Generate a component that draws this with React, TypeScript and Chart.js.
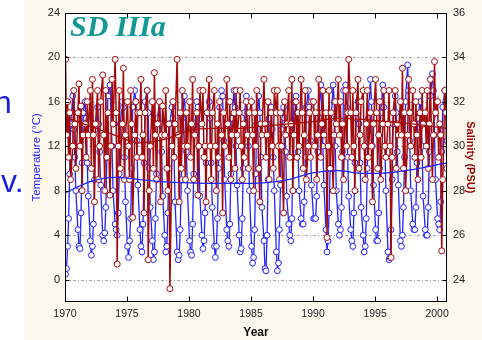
import { useEffect, useRef } from "react";
import { Chart, registerables } from "chart.js";

Chart.register(...registerables);

// ---- data ----
const years = [
  1970, 1971, 1972, 1973, 1974, 1975, 1976, 1977, 1978, 1979,
  1980, 1981, 1982, 1983, 1984, 1985, 1986, 1987, 1988, 1989,
  1990, 1991, 1992, 1993, 1994, 1995, 1996, 1997, 1998, 1999, 2000,
];
// sampling months within each year
const sampleMonths = [1, 2, 3, 4, 5, 6, 8, 9, 10, 11];

// Temperature (°C), one row per year
const temp1970s = [
  [0.5, 1.0, 3.0, 5.5, 9.5, 14.0, 16.5, 13.5, 11.0, 8.0],
  [4.5, 3.0, 2.8, 6.0, 10.5, 15.0, 16.0, 14.5, 10.5, 7.5],
  [3.5, 2.2, 3.0, 5.0, 9.0, 13.5, 15.5, 14.0, 11.5, 8.5],
  [4.0, 3.5, 4.2, 6.5, 11.0, 16.5, 17.5, 15.0, 12.0, 8.0],
  [5.0, 4.5, 4.0, 6.0, 9.5, 14.0, 16.0, 15.5, 11.0, 7.0],
  [3.0, 2.0, 3.5, 5.5, 10.0, 15.5, 17.0, 16.0, 12.5, 8.5],
  [4.5, 3.0, 2.5, 5.0, 10.5, 16.0, 17.0, 15.0, 10.0, 6.5],
  [3.5, 1.8, 2.5, 5.5, 9.5, 14.5, 16.0, 14.0, 11.5, 7.5],
  [4.0, 2.5, 3.0, 6.0, 10.0, 14.0, 15.5, 14.5, 11.0, 7.0],
  [2.5, 1.8, 2.2, 4.5, 9.0, 14.5, 16.5, 15.0, 11.5, 8.0],
];
const temp1980s = [
  [3.5, 2.5, 2.2, 5.0, 9.5, 14.0, 16.0, 15.5, 12.0, 7.5],
  [4.0, 2.8, 3.5, 6.0, 10.5, 15.0, 16.0, 14.5, 10.5, 6.5],
  [3.0, 2.0, 3.0, 5.5, 10.0, 15.5, 17.0, 16.5, 12.5, 9.0],
  [4.5, 3.5, 3.0, 5.0, 9.5, 14.5, 17.0, 15.5, 12.0, 8.5],
  [4.0, 2.5, 2.8, 5.5, 10.0, 15.0, 16.5, 15.0, 12.0, 8.0],
  [3.0, 1.5, 2.0, 4.5, 9.5, 14.0, 16.5, 15.0, 11.0, 6.5],
  [3.5, 1.0, 0.8, 4.0, 9.0, 14.5, 15.5, 13.5, 11.0, 8.0],
  [2.5, 0.8, 1.5, 4.5, 8.5, 13.5, 15.5, 14.5, 11.5, 7.5],
  [5.0, 4.0, 3.5, 5.5, 11.0, 16.0, 16.5, 15.0, 11.5, 8.0],
  [5.5, 5.0, 5.0, 7.0, 11.0, 15.5, 17.0, 15.5, 12.5, 8.5],
];
const temp1990s = [
  [5.5, 5.5, 5.5, 7.5, 11.5, 15.0, 17.5, 15.0, 12.0, 8.5],
  [4.5, 2.5, 3.5, 6.0, 10.0, 14.5, 17.5, 16.0, 12.0, 8.0],
  [5.0, 4.0, 4.5, 6.5, 11.5, 17.0, 17.5, 15.5, 11.0, 7.5],
  [4.5, 3.5, 3.0, 6.0, 10.5, 14.5, 16.0, 14.0, 10.5, 6.5],
  [4.0, 2.5, 3.0, 5.5, 10.0, 14.5, 18.0, 16.0, 12.0, 8.5],
  [4.5, 3.5, 3.5, 6.0, 10.0, 15.0, 17.5, 15.5, 12.0, 8.0],
  [2.5, 1.8, 2.0, 4.5, 9.0, 14.0, 16.5, 15.0, 11.5, 8.5],
  [3.5, 3.0, 4.0, 6.5, 11.0, 16.0, 19.3, 17.0, 12.5, 8.0],
  [5.0, 4.5, 4.5, 6.5, 10.5, 14.5, 16.0, 15.0, 12.0, 7.5],
  [4.5, 4.0, 4.0, 6.5, 11.5, 16.5, 18.5, 17.0, 13.0, 9.0],
];
const temp2000 = [[5.5, 5.0, 4.5, 7.0, 11.5, 15.5, 17.0, 16.0, 12.5]];

// Salinity (PSU), one row per year
const sal1970s = [
  [33.9, 30.5, 32.0, 29.5, 31.5, 28.5, 30.0, 32.5, 31.0, 29.0],
  [31.5, 32.8, 30.0, 31.8, 28.0, 30.5, 31.0, 29.5, 32.0, 30.5],
  [32.5, 29.0, 33.0, 30.5, 27.5, 31.0, 32.5, 28.5, 30.0, 32.0],
  [33.2, 30.5, 28.0, 32.5, 29.5, 31.5, 27.8, 30.0, 33.0, 31.0],
  [33.9, 31.5, 24.7, 30.0, 32.5, 29.0, 31.0, 33.5, 28.5, 30.5],
  [32.0, 30.0, 28.5, 32.5, 31.0, 26.8, 30.5, 32.0, 29.5, 31.5],
  [31.5, 33.0, 29.5, 30.5, 27.0, 31.5, 32.5, 24.9, 28.0, 30.0],
  [32.0, 29.0, 33.3, 30.5, 28.5, 31.0, 32.0, 27.5, 30.5, 31.8],
  [30.5, 32.5, 29.0, 28.0, 31.0, 23.6, 30.0, 32.0, 29.5, 31.0],
  [33.9, 30.5, 27.5, 31.5, 29.0, 32.5, 30.0, 28.5, 31.5, 30.0],
];
const sal1980s = [
  [32.0, 29.5, 31.0, 33.0, 28.5, 30.5, 31.5, 27.8, 30.0, 32.5],
  [31.0, 32.5, 29.5, 30.0, 27.5, 31.5, 33.0, 30.0, 28.5, 31.5],
  [32.5, 30.0, 28.0, 31.0, 29.5, 32.0, 30.5, 27.0, 31.5, 30.0],
  [33.0, 31.0, 29.5, 32.0, 28.5, 30.5, 31.5, 29.0, 32.5, 30.5],
  [31.5, 32.5, 30.0, 28.5, 31.0, 29.5, 32.0, 30.5, 29.0, 31.5],
  [32.0, 30.5, 28.0, 31.5, 30.0, 32.5, 29.0, 27.5, 31.0, 30.5],
  [33.0, 31.0, 29.5, 30.5, 32.0, 28.5, 31.5, 30.0, 29.0, 32.5],
  [31.5, 32.5, 30.0, 28.5, 31.5, 30.0, 27.0, 32.0, 30.5, 31.0],
  [32.5, 29.5, 31.0, 33.0, 28.0, 30.5, 32.0, 29.5, 31.5, 30.0],
  [33.0, 31.5, 29.0, 30.5, 32.5, 28.5, 30.0, 31.5, 29.5, 32.0],
];
const sal1990s = [
  [32.0, 30.0, 31.5, 28.5, 30.5, 33.0, 29.5, 31.0, 32.5, 30.5],
  [31.5, 25.9, 30.0, 32.5, 29.0, 31.5, 28.0, 30.5, 32.0, 31.0],
  [33.0, 30.5, 32.0, 29.5, 31.0, 28.5, 32.5, 30.0, 31.5, 33.9],
  [31.5, 29.5, 32.5, 30.0, 28.0, 31.5, 33.0, 29.0, 30.5, 32.0],
  [32.5, 30.0, 28.5, 31.0, 32.5, 29.5, 31.5, 30.0, 27.5, 31.0],
  [33.0, 31.5, 29.0, 30.5, 32.0, 28.5, 31.0, 32.5, 30.0, 29.5],
  [31.0, 32.5, 30.0, 25.0, 29.5, 31.5, 32.5, 29.0, 31.0, 30.5],
  [32.0, 30.5, 33.5, 29.0, 31.5, 28.0, 30.5, 33.0, 31.5, 30.0],
  [32.5, 31.0, 29.5, 32.0, 30.5, 28.5, 31.5, 29.5, 32.5, 31.0],
  [31.5, 30.0, 32.5, 29.0, 31.0, 33.0, 28.5, 30.5, 33.8, 31.5],
];
const sal2000 = [[32.0, 29.5, 31.0, 30.5, 25.3, 28.5, 32.5, 31.5, 29.0]];

// smoothed trend curves
const trendYears = [1970, 1972, 1974, 1976, 1978, 1980, 1982, 1984, 1986, 1988, 1990, 1992, 1994, 1996, 1998, 2000.8];
const tempTrend = [7.8, 8.8, 9.2, 9.0, 8.8, 8.7, 8.65, 8.65, 8.7, 9.0, 9.6, 9.8, 9.55, 9.6, 9.9, 10.5];
const salTrend = [31.3, 30.9, 30.5, 30.15, 30.3, 30.7, 30.8, 30.8, 30.9, 31.0, 31.1, 31.25, 31.2, 31.1, 31.0, 30.8];

const xTicks = [1970, 1975, 1980, 1985, 1990, 1995, 2000];
const tempTicks = [0, 4, 8, 12, 16, 20, 24];
const salTicks = [24, 26, 28, 30, 32, 34, 36];

// ---- styles ----
const CREAM = "#fcf8ee";
const BLUE = "rgb(35,35,255)";
const RED = "rgb(165,8,8)";
const SLIDE_BLUE = "rgb(28,28,225)";
const TEAL = "rgb(18,152,148)";
const SANS = '"Liberation Sans", Arial, sans-serif';

function toPoints(rows: number[][]) {
  const out: { x: number; y: number }[] = [];
  rows.forEach((row, i) => {
    row.forEach((v, j) => {
      out.push({ x: years[i] + (sampleMonths[j] - 0.5) / 12, y: v });
    });
  });
  return out;
}

const decor = {
  id: "decor",
  beforeDraw(chart: any) {
    const { ctx, chartArea: a, width, height } = chart;
    ctx.save();
    ctx.fillStyle = "#ffffff";
    ctx.fillRect(0, 0, width, height);
    ctx.fillStyle = CREAM;
    ctx.fillRect(24, 0, width - 24, height);
    ctx.fillStyle = "#ffffff";
    ctx.fillRect(a.left, a.top, a.right - a.left, a.bottom - a.top);
    // slide text fragments on the left
    ctx.fillStyle = SLIDE_BLUE;
    ctx.font = `32px ${SANS}`;
    ctx.textBaseline = "alphabetic";
    ctx.textAlign = "left";
    ctx.fillText("n", -6, 113);
    ctx.fillText("v.", 1, 192);
    ctx.restore();
  },
  beforeDatasetsDraw(chart: any) {
    const { ctx, chartArea: a } = chart;
    const y = chart.scales.y;
    ctx.save();
    ctx.strokeStyle = "rgba(150,150,150,0.85)";
    ctx.lineWidth = 1;
    ctx.setLineDash([3, 2, 1, 2]);
    for (const v of tempTicks) {
      const py = Math.round(y.getPixelForValue(v)) + 0.5;
      if (py <= a.top + 1) continue;
      ctx.beginPath();
      ctx.moveTo(a.left, py);
      ctx.lineTo(a.right, py);
      ctx.stroke();
    }
    ctx.restore();
  },
  afterDatasetsDraw(chart: any) {
    const { ctx, chartArea: a } = chart;
    const x = chart.scales.x;
    const y = chart.scales.y;
    const y1 = chart.scales.y1;
    ctx.save();
    ctx.strokeStyle = "#000";
    ctx.lineWidth = 1;
    const L = Math.round(a.left) + 0.5;
    const R = Math.round(a.right) - 0.5;
    const T = Math.round(a.top) + 0.5;
    const B = Math.round(a.bottom) - 0.5;
    ctx.strokeRect(L, T, R - L, B - T);
    ctx.beginPath();
    for (const v of xTicks) {
      const px = Math.round(x.getPixelForValue(v)) + 0.5;
      ctx.moveTo(px, B);
      ctx.lineTo(px, B - 5);
      ctx.moveTo(px, T);
      ctx.lineTo(px, T + 5);
    }
    for (const v of tempTicks) {
      const py = Math.round(y.getPixelForValue(v)) + 0.5;
      ctx.moveTo(L, py);
      ctx.lineTo(L + 4, py);
    }
    for (const v of salTicks) {
      const py = Math.round(y1.getPixelForValue(v)) + 0.5;
      ctx.moveTo(R, py);
      ctx.lineTo(R - 4, py);
    }
    ctx.stroke();
    // panel title
    ctx.fillStyle = TEAL;
    ctx.font = `italic bold 30px "Liberation Serif", "Times New Roman", serif`;
    ctx.textAlign = "left";
    ctx.textBaseline = "alphabetic";
    ctx.fillText("SD IIIa", 70, 36);
    ctx.restore();
  },
};

export default function App() {
  const ref = useRef<HTMLCanvasElement | null>(null);

  useEffect(() => {
    if (!ref.current) return;
    const tempPts = toPoints([...temp1970s, ...temp1980s, ...temp1990s, ...temp2000]);
    const salPts = toPoints([...sal1970s, ...sal1980s, ...sal1990s, ...sal2000]);
    const tTrend = trendYears.map((yr, i) => ({ x: yr, y: tempTrend[i] }));
    const sTrend = trendYears.map((yr, i) => ({ x: yr, y: salTrend[i] }));

    const chart = new Chart(ref.current, {
      type: "line",
      data: {
        datasets: [
          {
            label: "Temperature trend",
            data: tTrend,
            yAxisID: "y",
            borderColor: BLUE,
            borderWidth: 1.3,
            pointRadius: 0,
            cubicInterpolationMode: "monotone",
            order: 1,
          },
          {
            label: "Salinity trend",
            data: sTrend,
            yAxisID: "y1",
            borderColor: RED,
            borderWidth: 1.3,
            pointRadius: 0,
            cubicInterpolationMode: "monotone",
            order: 1,
          },
          {
            label: "Salinity",
            data: salPts,
            yAxisID: "y1",
            borderColor: RED,
            borderWidth: 1.5,
            pointRadius: 3,
            pointBorderWidth: 1,
            pointBorderColor: RED,
            pointBackgroundColor: "#ffffff",
            tension: 0,
            order: 2,
          },
          {
            label: "Temperature",
            data: tempPts,
            yAxisID: "y",
            borderColor: BLUE,
            borderWidth: 1.3,
            pointRadius: 2.9,
            pointBorderWidth: 1,
            pointBorderColor: BLUE,
            pointBackgroundColor: "#ffffff",
            tension: 0,
            order: 3,
          },
        ],
      },
      options: {
        animation: false,
        responsive: false,
        devicePixelRatio: 1,
        parsing: false as any,
        normalized: true,
        layout: { padding: { top: 10, left: 0, right: 0, bottom: 0 } },
        plugins: {
          legend: { display: false },
          tooltip: { enabled: false },
        },
        scales: {
          x: {
            type: "linear",
            min: 1970,
            max: 2000.8,
            grid: { display: false, drawTicks: false },
            border: { display: false },
            ticks: {
              stepSize: 5,
              includeBounds: false,
              padding: 6,
              color: "#222",
              font: { family: SANS, size: 10.5 },
              maxRotation: 0,
              callback: (v: any) => String(v),
            },
            title: {
              display: true,
              text: "Year",
              color: "#111",
              font: { family: SANS, size: 12, weight: "bold" },
              padding: { top: 0, bottom: 0 },
            },
            afterFit: (s: any) => {
              s.height = 38;
            },
          },
          y: {
            type: "linear",
            position: "left",
            min: -2,
            max: 24,
            grid: { display: false, drawTicks: false },
            border: { display: false },
            ticks: {
              stepSize: 4,
              includeBounds: false,
              padding: 5,
              color: "#222",
              font: { family: SANS, size: 11 },
            },
            title: {
              display: true,
              text: "Temperature (°C)",
              color: BLUE,
              font: { family: SANS, size: 11.5 },
              padding: { top: 30, bottom: 0 },
            },
            afterFit: (s: any) => {
              s.width = 65;
            },
          },
          y1: {
            type: "linear",
            position: "right",
            min: 23,
            max: 36,
            grid: { display: false, drawTicks: false },
            border: { display: false },
            ticks: {
              stepSize: 2,
              includeBounds: false,
              padding: 6,
              color: "#222",
              font: { family: SANS, size: 11 },
            },
            title: {
              display: true,
              text: "Salinity (PSU)",
              color: "rgb(150,0,0)",
              font: { family: SANS, size: 11, weight: "bold" },
              padding: { top: 5, bottom: 0 },
            },
            afterFit: (s: any) => {
              s.width = 35;
            },
          },
        },
      },
      plugins: [decor],
    });
    return () => chart.destroy();
  }, []);

  return (
    <div style={{ position: "absolute", left: 0, top: 0, width: 482, height: 340 }}>
      <canvas ref={ref} width={482} height={340} style={{ display: "block" }} />
    </div>
  );
}
